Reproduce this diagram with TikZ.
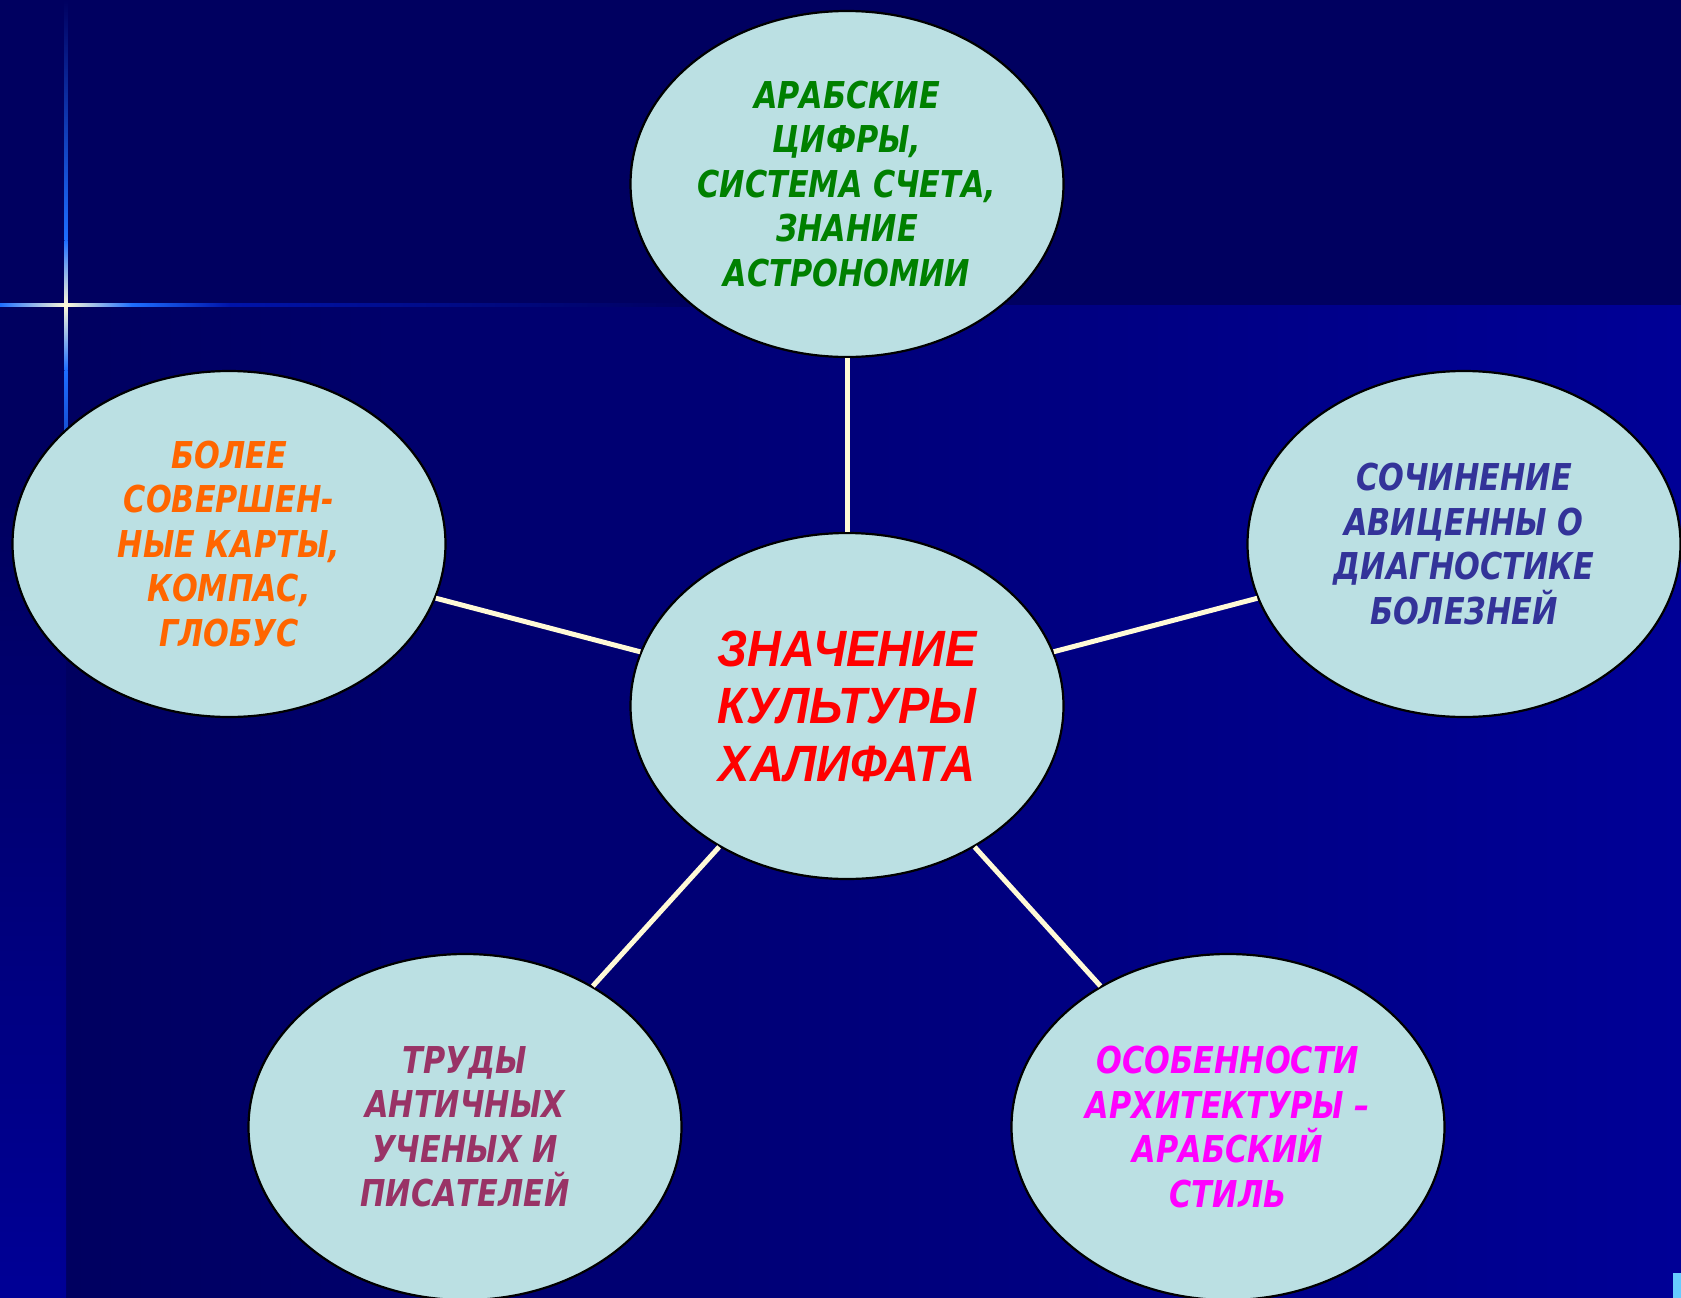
\documentclass[tikz,border=0pt]{standalone}
\usepackage{fontspec}
\usetikzlibrary{shapes.geometric,backgrounds}
\newfontfamily\outerfont[FakeStretch=0.82]{DejaVu Sans}
\newfontfamily\centerfont[FakeStretch=0.92]{Liberation Sans}
\definecolor{bgdark}{RGB}{0,0,96}
\definecolor{bglight}{RGB}{0,0,150}
\definecolor{ellfill}{RGB}{187,224,227}
\definecolor{linecream}{RGB}{255,250,215}
\definecolor{glowblue}{RGB}{30,110,255}
\definecolor{glowdim}{RGB}{0,20,170}
\definecolor{txtgreen}{RGB}{0,128,0}
\definecolor{txtorange}{RGB}{255,102,0}
\definecolor{txtblue}{RGB}{51,51,153}
\definecolor{txtmagenta}{RGB}{255,0,255}
\definecolor{txtplum}{RGB}{153,51,102}
\definecolor{txtred}{RGB}{255,0,0}
\definecolor{cornercyan}{RGB}{102,204,255}
\tikzset{
  bubble/.style={ellipse, draw=black, line width=2.2pt, fill=ellfill,
    minimum width=433pt, minimum height=346pt, inner sep=0pt, align=center,
    font=\outerfont\bfseries\itshape\fontsize{37}{44.5}\selectfont},
  hub/.style={bubble, font=\centerfont\bfseries\itshape\fontsize{51}{57.5}\selectfont},
  spoke/.style={draw=linecream, line width=5pt}
}
\begin{document}
\begin{tikzpicture}[x=1pt,y=-1pt]
\useasboundingbox (0,0) rectangle (1681,1298);
% background
\fill[bgdark] (0,0) rectangle (1681,1298);
\shade[left color=bgdark, right color=bglight] (66,305) rectangle (1681,1298);
\fill[bgdark] (0,305) rectangle (66,500);
\shade[top color=bgdark, bottom color=bglight] (0,500) rectangle (66,1298);
% glowing cross
\shade[left color=glowblue, right color=glowblue, middle color=linecream] (0,303.5) rectangle (132,306.5);
\shade[left color=glowblue, right color=glowdim] (132,303.5) rectangle (230,306.5);
\shade[left color=glowdim, right color=bgdark] (230,303.5) rectangle (690,306.5);
\shade[top color=glowblue, bottom color=glowblue, middle color=linecream] (64.5,240) rectangle (67.5,370);
\shade[top color=bgdark, bottom color=glowblue] (64.5,0) rectangle (67.5,240);
\shade[top color=glowblue, bottom color=bgdark] (64.5,370) rectangle (67.5,600);
\fill[cornercyan] (1673,1273) rectangle (1681,1298);
% nodes
\node[hub, text=txtred] (c) at (847,706) {ЗНАЧЕНИЕ\\КУЛЬТУРЫ\\ХАЛИФАТА};
\node[bubble, text=txtgreen] (t) at (847,184) {АРАБСКИЕ\\ЦИФРЫ,\\СИСТЕМА СЧЕТА,\\ЗНАНИЕ\\АСТРОНОМИИ};
\node[bubble, text=txtorange] (l) at (229,544) {БОЛЕЕ\\СОВЕРШЕН-\\НЫЕ КАРТЫ,\\КОМПАС,\\ГЛОБУС};
\node[bubble, text=txtblue] (r) at (1464,544) {СОЧИНЕНИЕ\\АВИЦЕННЫ О\\ДИАГНОСТИКЕ\\БОЛЕЗНЕЙ};
\node[bubble, text=txtplum] (bl) at (465,1127) {ТРУДЫ\\АНТИЧНЫХ\\УЧЕНЫХ И\\ПИСАТЕЛЕЙ};
\node[bubble, text=txtmagenta] (br) at (1228,1127) {ОСОБЕННОСТИ\\АРХИТЕКТУРЫ –\\АРАБСКИЙ\\СТИЛЬ};
% connectors
\draw[spoke] (c) -- (t);
\draw[spoke] (c) -- (l);
\draw[spoke] (c) -- (r);
\draw[spoke] (c) -- (bl);
\draw[spoke] (c) -- (br);
\end{tikzpicture}
\end{document}
